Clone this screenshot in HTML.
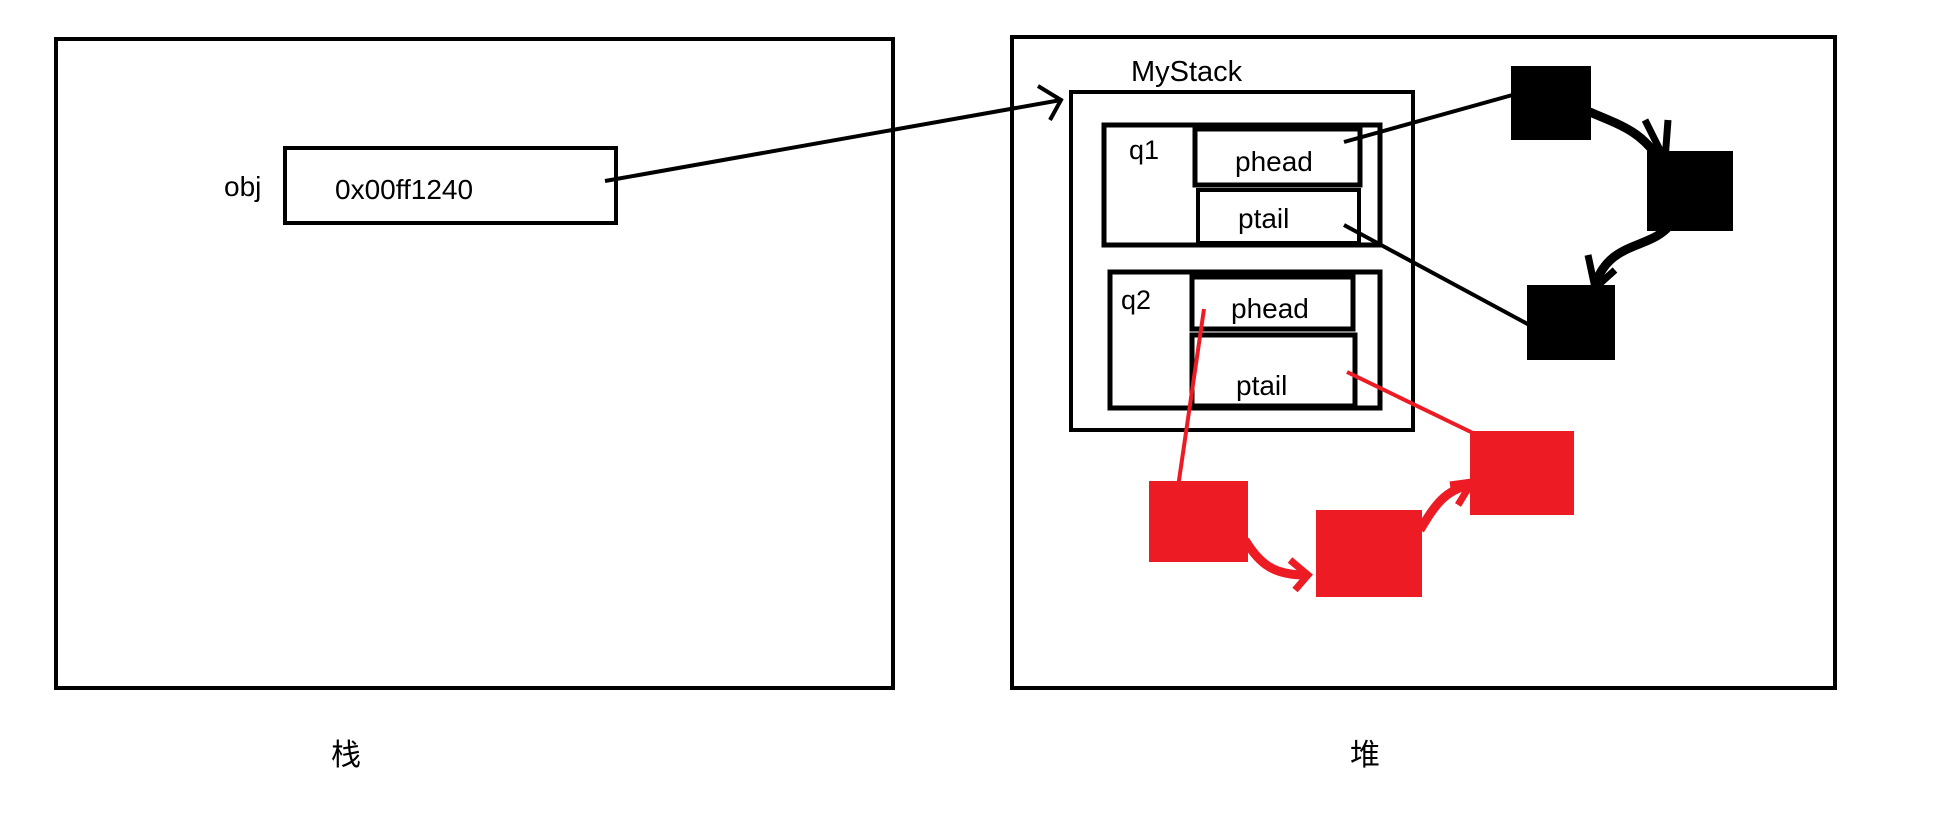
<!DOCTYPE html>
<html><head><meta charset="utf-8"><style>
html,body{margin:0;padding:0;background:#fff;}
svg{display:block}
text{font-family:"Liberation Sans","Noto Sans CJK SC",sans-serif;fill:#000}
</style></head><body>
<svg width="1954" height="836" viewBox="0 0 1954 836" xmlns="http://www.w3.org/2000/svg">
<rect width="1954" height="836" fill="#fff"/>
<g fill="none" stroke="#000" stroke-width="4">
<rect x="56" y="39" width="837" height="649"/>
<rect x="1012" y="37" width="823" height="651"/>
<rect x="285" y="148" width="331" height="75"/>
<rect x="1071" y="92" width="342" height="338"/>
<rect x="1104" y="125" width="276" height="120" stroke-width="5"/>
<rect x="1195" y="129" width="165" height="56" stroke-width="5"/>
<rect x="1198" y="190" width="161" height="53" stroke-width="4"/>
<rect x="1110" y="272" width="270" height="136" stroke-width="5"/>
<rect x="1192" y="277" width="161" height="52" stroke-width="5"/>
<rect x="1192" y="335" width="163" height="71" stroke-width="5"/>
<line x1="605" y1="181" x2="1061" y2="100" stroke-width="4"/>
<polyline points="1038,86 1061,100 1050,120" stroke-width="4"/>
<line x1="1344" y1="142" x2="1516" y2="94" stroke-width="4"/>
<line x1="1344" y1="225" x2="1535" y2="328" stroke-width="4"/>
<path d="M1585,110 C1620,125 1640,130 1660,160" stroke-width="9"/>
<path d="M1645,120 L1665,160 L1668,120" stroke-width="7"/>
<path d="M1670,225 C1650,250 1610,240 1595,285" stroke-width="9"/>
<path d="M1588,255 L1595,288 L1615,270" stroke-width="7"/>
</g>
<g fill="#000">
<rect x="1511" y="66" width="80" height="74"/>
<rect x="1647" y="151" width="86" height="80"/>
<rect x="1527" y="285" width="88" height="75"/>
</g>
<g fill="none" stroke="#ed1c24">
<line x1="1204" y1="309" x2="1177" y2="494" stroke-width="4"/>
<line x1="1347" y1="372" x2="1475" y2="434" stroke-width="4"/>
<path d="M1245,540 C1260,565 1275,575 1305,575" stroke-width="9"/>
<path d="M1290,560 L1308,575 L1295,590" stroke-width="7"/>
<path d="M1420,530 C1435,505 1445,490 1470,485" stroke-width="9"/>
<path d="M1450,485 L1472,482 L1458,505" stroke-width="7"/>
</g>
<g fill="#ed1c24">
<rect x="1149" y="481" width="99" height="81"/>
<rect x="1316" y="510" width="106" height="87"/>
<rect x="1470" y="431" width="104" height="84"/>
</g>
<text x="224" y="196" font-size="28">obj</text>
<text x="335" y="199" font-size="28">0x00ff1240</text>
<text x="1131" y="81" font-size="29">MyStack</text>
<text x="1129" y="159" font-size="27">q1</text>
<text x="1235" y="171" font-size="28">phead</text>
<text x="1238" y="228" font-size="28">ptail</text>
<text x="1121" y="309" font-size="27">q2</text>
<text x="1231" y="318" font-size="28">phead</text>
<text x="1236" y="395" font-size="28">ptail</text>
<text x="331" y="765" font-size="30">栈</text>
<text x="1350" y="765" font-size="30">堆</text>
</svg>
</body></html>
